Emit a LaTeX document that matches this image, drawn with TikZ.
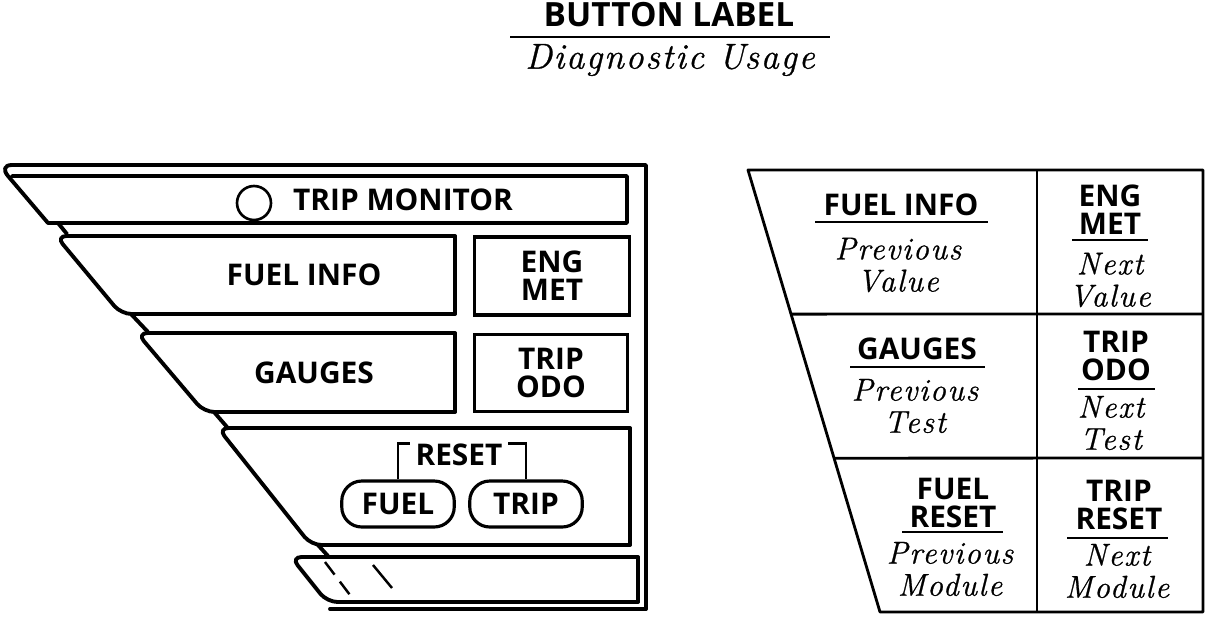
\documentclass[tikz,border=0pt]{standalone}
\usepackage{fontspec}
\usetikzlibrary{calc}
\newfontfamily\lblfont{Open Sans}
\newfontfamily\usagefont[LetterSpace=5, FakeBold=0.8]{Latin Modern Roman}

\tikzset{
  panel/.style={line width=2.2pt, line join=round, line cap=round},
  cell/.style={line width=1.6pt, line join=round},
  lbl/.style={inner sep=0pt, align=center, font=\lblfont\bfseries\fontsize{17}{16}\selectfont},
  btn/.style={lbl, draw, line width=2.2pt},
  pill/.style={lbl, draw, line width=1.8pt, rounded corners=0.4cm, minimum width=2.25cm, minimum height=0.92cm},
  usage/.style={inner sep=0pt, align=center, font=\usagefont\itshape\fontsize{18}{18.3}\selectfont},
}

\begin{document}
\begin{tikzpicture}[x=0.02cm, y=-0.02cm]
  \useasboundingbox (0,0) rectangle (1216,616);

  % title
  \node[lbl, font=\lblfont\bfseries\fontsize{19}{20}\selectfont] (title) at (669,15) {BUTTON LABEL};
  \draw[cell] (510,37) -- (830,37);
  \node[usage, font=\usagefont\itshape\fontsize{20.5}{22}\selectfont] (usage) at (670,60) {Diagnostic Usage};

  % left panel
  \draw[panel] (646,609) -- (646,165) -- (12,165) .. controls (4,165) and (3,170) .. (8,176) -- (48,223) -- (627,223) -- (627,176) -- (12,176);
  \draw[panel] (58,223) -- (67,234);
  \draw[panel, rounded corners=6] (455,236) -- (56,236) -- (121,314) -- (455,314);
  \draw[panel] (455,236) -- (455,314);
  \draw[panel] (131,314) -- (148,332);
  \draw[panel, rounded corners=6] (455,333) -- (137,333) -- (204,412) -- (455,412);
  \draw[panel] (455,333) -- (455,412);
  \draw[panel] (214,412) -- (227,427);
  \draw[panel, rounded corners=6] (630,428) -- (218,428) -- (311,545) -- (630,545);
  \draw[panel] (630,428) -- (630,545);
  \draw[panel] (318,545) -- (328,556);
  \draw[panel, rounded corners=6] (638,557) -- (291,557) -- (327,602) -- (638,602);
  \draw[panel] (638,557) -- (638,602);
  \draw[panel] (330,609) -- (646,609);
  \draw[line width=1.4pt, dash pattern=on 9pt off 5pt] (325,562) -- (350,595);
  \draw[line width=1.4pt] (373,565) -- (392,588);

  \node[draw, circle, line width=1.5pt, minimum size=0.68cm, inner sep=0pt] (lamp) at (254,203) {};
  \node[lbl] (tripmon) at (403,200) {TRIP MONITOR};
  \node[lbl] (fuelinfo) at (304,275) {FUEL INFO};
  \node[btn, minimum width=3.1cm, minimum height=1.56cm] (engmet) at (552,276) {ENG\\MET};
  \node[lbl] (gauges) at (314,373) {GAUGES};
  \node[btn, minimum width=3.06cm, minimum height=1.54cm] (tripodo) at (551,373) {TRIP\\ODO};
  \node[lbl, inner xsep=3pt] (reset) at (459,455) {RESET};
  \node[pill] (fuelbtn) at (398,504) {FUEL};
  \node[pill] (tripbtn) at (526,504) {TRIP};
  \draw[line width=1.6pt] (fuelbtn.north) -- (fuelbtn.north |- reset.north) -- (reset.north west);
  \draw[line width=1.6pt] (tripbtn.north) -- (tripbtn.north |- reset.north) -- (reset.north east);

  % right panel
  \coordinate (tl) at (748,170);
  \coordinate (tr) at (1203,170);
  \coordinate (br) at (1203,612);
  \coordinate (bl) at (880,612);
  \draw[cell] (tl) -- (tr) -- (br) -- (bl) -- cycle;
  \draw[cell] (1037,170) -- (1037,612);
  \draw[cell] ($(tl)!0.326!(bl)$) -- (1203,314);
  \draw[cell] ($(tl)!0.652!(bl)$) -- (1203,458);

  \node[lbl] (fuelhd) at (901,205) {FUEL INFO};
  \draw[cell] (815,222) -- (988,222);
  \node[usage] (fuelus) at (898,265) {Previous\\Value};
  \node[lbl] (enghd) at (1110,210) {ENG\\MET};
  \draw[cell] (1072,240) -- (1148,240);
  \node[usage] (engus) at (1110,280) {Next\\Value};

  \node[lbl] (gauhd) at (917,349) {GAUGES};
  \draw[cell] (850,367) -- (985,367);
  \node[usage] (gauus) at (915,406) {Previous\\Test};
  \node[lbl] (triphd) at (1116,356) {TRIP\\ODO};
  \draw[cell] (1078,389) -- (1155,389);
  \node[usage] (tripus) at (1111,423) {Next\\Test};

  \node[lbl] (fresethd) at (953,503) {FUEL\\RESET};
  \draw[cell] (902,532) -- (1003,532);
  \node[usage] (fresetus) at (950,569) {Previous\\Module};
  \node[lbl] (tresethd) at (1119,505) {TRIP\\RESET};
  \draw[cell] (1067,538) -- (1168,538);
  \node[usage] (tresetus) at (1117,571) {Next\\Module};
\end{tikzpicture}
\end{document}
